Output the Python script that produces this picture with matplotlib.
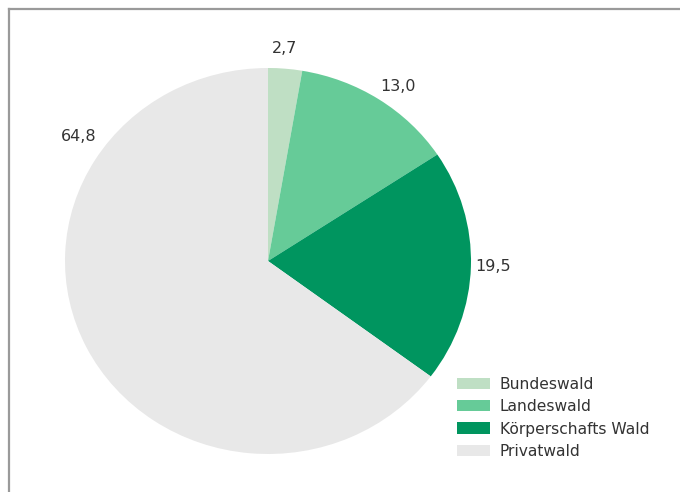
"""Waldbesitzarten: Anteile in Prozent als Tortendiagramm."""

import matplotlib.pyplot as plt
from matplotlib.lines import Line2D

categories = ["Bundeswald", "Landeswald", "Körperschafts Wald", "Privatwald"]
shares = [2.7, 13.0, 19.5, 64.8]
value_labels = ["2,7", "13,0", "19,5", "64,8"]
colors = ["#bfdfc4", "#66cb98", "#00955f", "#e8e8e8"]

# label positions (axes data units, pie radius = 1)
label_pos = [(0.084, 1.10), (0.64, 0.905), (1.11, -0.03), (-0.935, 0.645)]

W, H = 680, 492
cx, cy, rx, ry = 268, 261, 203, 193

fig = plt.figure(figsize=(W / 100, H / 100), dpi=100)
ax = fig.add_axes([(cx - rx) / W, (H - cy - ry) / H, 2 * rx / W, 2 * ry / H])

wedges, _ = ax.pie(
    shares,
    colors=colors,
    startangle=90,
    counterclock=False,
    radius=1.0,
    wedgeprops=dict(linewidth=0),
)
ax.set_aspect("auto")
ax.set_xlim(-1, 1)
ax.set_ylim(-1, 1)
ax.axis("off")

for txt, (x, y) in zip(value_labels, label_pos):
    ax.text(x, y, txt, ha="center", va="center", fontsize=11.5,
            color="#333333", clip_on=False)

# frame lines at top and left only
fig.add_artist(Line2D([8.5 / W, 1], [1 - 8.5 / H, 1 - 8.5 / H],
                      transform=fig.transFigure, color="#9a9a9a", lw=1.6))
fig.add_artist(Line2D([8.5 / W, 8.5 / W], [0, 1 - 8.5 / H],
                      transform=fig.transFigure, color="#9a9a9a", lw=1.6))

leg = fig.legend(
    wedges,
    categories,
    loc="upper left",
    bbox_to_anchor=(446 / W, 1 - 366 / H),
    frameon=False,
    fontsize=11.2,
    handlelength=2.15,
    handleheight=0.75,
    handletextpad=0.6,
    labelspacing=0.47,
    borderpad=0.2,
)
for t in leg.get_texts():
    t.set_color("#333333")

fig.savefig("out.png", dpi=100)
